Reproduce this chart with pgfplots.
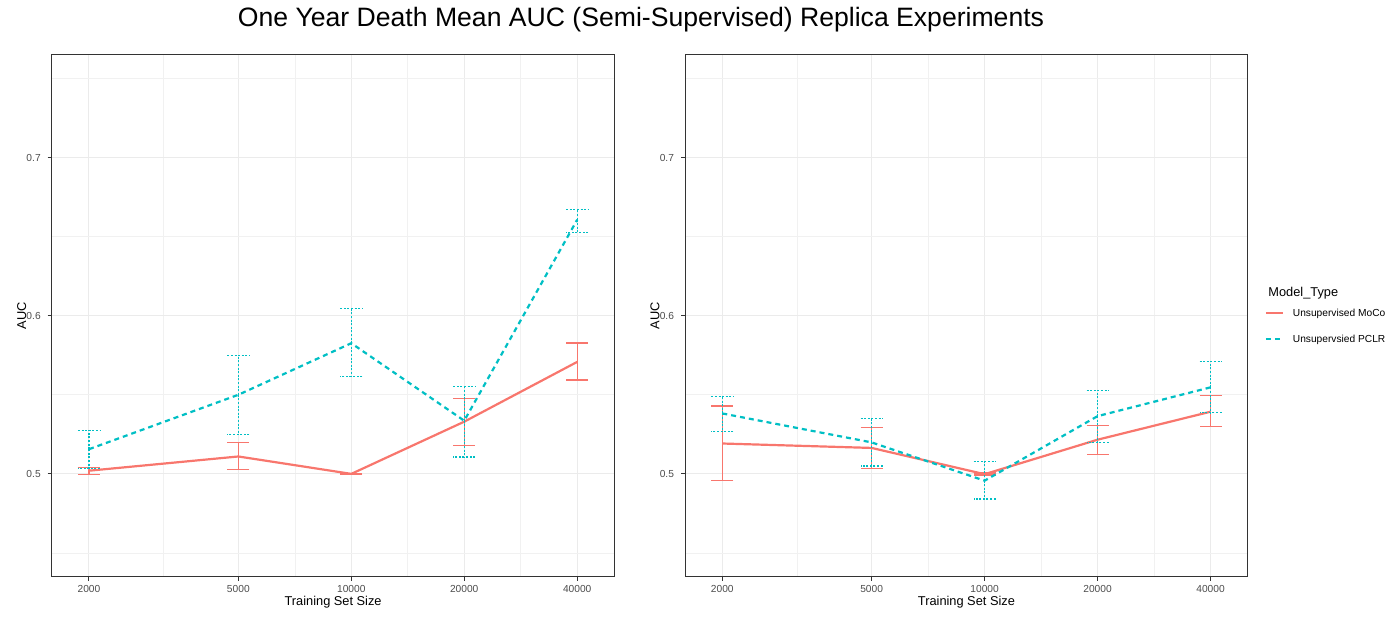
\documentclass[border=0pt]{standalone}
\usepackage{fontspec}
\setmainfont{Liberation Sans}
\usepackage{pgfplots}
\pgfplotsset{compat=1.18}
\usepackage{pgfplotstable}

\definecolor{moco}{HTML}{F8766D}
\definecolor{pclr}{HTML}{00BFC4}
\definecolor{gridc}{HTML}{EBEBEB}
\definecolor{tickc}{HTML}{4D4D4D}
\definecolor{bordc}{HTML}{333333}

\pgfplotstableread{
x y ep em
2000 0.5020 0.0020 0.0025
5000 0.5110 0.0090 0.0084
10000 0.5000 0.0003 0.0003
20000 0.5330 0.0146 0.0150
40000 0.5708 0.0120 0.0114
}\leftmoco
\pgfplotstableread{
x y ep em
2000 0.5156 0.0121 0.0123
5000 0.5500 0.0250 0.0251
10000 0.5826 0.0220 0.0213
20000 0.5336 0.0214 0.0229
40000 0.6607 0.0064 0.0080
}\leftpclr
\pgfplotstableread{
x y ep em
2000 0.5192 0.0237 0.0235
5000 0.5164 0.0127 0.0128
10000 0.4998 0.0007 0.0005
20000 0.5216 0.0090 0.0093
40000 0.5393 0.0100 0.0094
}\rightmoco
\pgfplotstableread{
x y ep em
2000 0.5382 0.0108 0.0112
5000 0.5199 0.0151 0.0149
10000 0.4957 0.0119 0.0116
20000 0.5365 0.0163 0.0168
40000 0.5547 0.0166 0.0161
}\rightpclr

\begin{document}
\begin{tikzpicture}
\useasboundingbox (0,0) rectangle (700pt,315pt);

\begin{axis}[
    at={(25.85pt,26.65pt)}, anchor=south west,
    scale only axis, width=281.4pt, height=261pt,
    xmode=log, xmin=1591, xmax=50290, ymin=0.435, ymax=0.765,
    xtick={2000,5000,10000,20000,40000},
    xticklabels={2000,5000,10000,20000,40000},
    minor xtick={3162.28,7071.07,14142.14,28284.27},
    ytick={0.5,0.6,0.7}, yticklabels={0.5,0.6,0.7},
    minor ytick={0.45,0.55,0.65,0.75},
    grid=both,
    major grid style={gridc, line width=0.5pt},
    minor grid style={gridc!70!white, line width=0.3pt},
    tick align=outside, tick pos=left,
    major tick length=2pt, minor tick length=0pt,
    tick style={bordc, line width=0.5pt},
    axis line style={bordc, line width=0.5pt},
    ticklabel style={font=\fontsize{5.1}{6}\selectfont, text=tickc},
    xticklabel style={yshift=1pt},
    label style={font=\fontsize{6.4}{7.5}\selectfont},
    xlabel={Training Set Size}, ylabel={AUC},
    xlabel style={at={(axis description cs:0.5,-0.0485)}, anchor=center},
    ylabel style={at={(axis description cs:-0.0534,0.5)}, anchor=center},
]
\addplot[moco, line width=1.1pt, solid,
    error bars/.cd, y dir=both, y explicit, error mark=|,
    error bar style={moco, line width=0.6pt, solid},
    error mark options={moco, line width=0.6pt, mark size=5.5pt, solid}]
  table[x=x, y=y, y error plus=ep, y error minus=em] {\leftmoco};
\addplot[pclr, line width=1.1pt, dash pattern=on 2.5pt off 2pt,
    error bars/.cd, y dir=both, y explicit, error mark=|,
    error bar style={pclr, line width=0.55pt, dash pattern=on 1pt off 0.8pt},
    error mark options={pclr, line width=0.55pt, mark size=5.5pt, dash pattern=on 1pt off 0.8pt}]
  table[x=x, y=y, y error plus=ep, y error minus=em] {\leftpclr};
\end{axis}

\begin{axis}[
    at={(342.5pt,26.65pt)}, anchor=south west,
    scale only axis, width=281.4pt, height=261pt,
    xmode=log, xmin=1591, xmax=50290, ymin=0.435, ymax=0.765,
    xtick={2000,5000,10000,20000,40000},
    xticklabels={2000,5000,10000,20000,40000},
    minor xtick={3162.28,7071.07,14142.14,28284.27},
    ytick={0.5,0.6,0.7}, yticklabels={0.5,0.6,0.7},
    minor ytick={0.45,0.55,0.65,0.75},
    grid=both,
    major grid style={gridc, line width=0.5pt},
    minor grid style={gridc!70!white, line width=0.3pt},
    tick align=outside, tick pos=left,
    major tick length=2pt, minor tick length=0pt,
    tick style={bordc, line width=0.5pt},
    axis line style={bordc, line width=0.5pt},
    ticklabel style={font=\fontsize{5.1}{6}\selectfont, text=tickc},
    xticklabel style={yshift=1pt},
    label style={font=\fontsize{6.4}{7.5}\selectfont},
    xlabel={Training Set Size}, ylabel={AUC},
    xlabel style={at={(axis description cs:0.5,-0.0485)}, anchor=center},
    ylabel style={at={(axis description cs:-0.0534,0.5)}, anchor=center},
    legend image code/.code={\draw[#1] (0pt,0pt) -- (8.5pt,0pt);},
    legend style={at={(axis description cs:1.030,0.512)}, anchor=north west,
      draw=none, fill=none, inner sep=0pt, outer sep=0pt,
      font=\fontsize{5.1}{6}\selectfont, row sep=9.3pt, column sep=2.5pt,
      nodes={inner xsep=2pt, inner ysep=0pt, text height=3.7pt, text depth=0pt}},
    legend cell align=left,
]
\addplot[moco, line width=1.1pt, solid,
    error bars/.cd, y dir=both, y explicit, error mark=|,
    error bar style={moco, line width=0.6pt, solid},
    error mark options={moco, line width=0.6pt, mark size=5.5pt, solid}]
  table[x=x, y=y, y error plus=ep, y error minus=em] {\rightmoco};
\addlegendentry{Unsupervised MoCo}
\addplot[pclr, line width=1.1pt, dash pattern=on 2.5pt off 2pt,
    error bars/.cd, y dir=both, y explicit, error mark=|,
    error bar style={pclr, line width=0.55pt, dash pattern=on 1pt off 0.8pt},
    error mark options={pclr, line width=0.55pt, mark size=5.5pt, dash pattern=on 1pt off 0.8pt}]
  table[x=x, y=y, y error plus=ep, y error minus=em] {\rightpclr};
\addlegendentry{Unsupervsied PCLR}
\end{axis}

\node[anchor=west, font=\fontsize{6.4}{7.5}\selectfont, inner sep=0pt] at (634pt,168.5pt) {Model\_Type};
\node[font=\fontsize{13.3}{15}\selectfont, inner sep=0pt] at (320.5pt,305pt) {One Year Death Mean AUC (Semi-Supervised) Replica Experiments};
\end{tikzpicture}
\end{document}
